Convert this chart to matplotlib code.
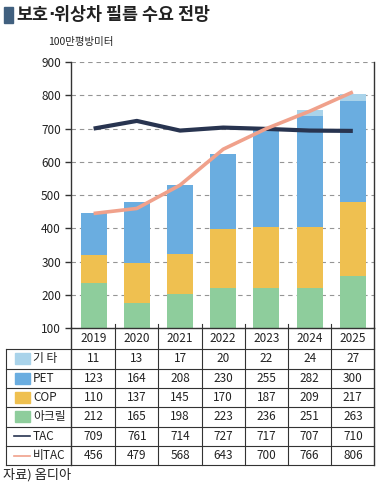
import numpy as np
import matplotlib.pyplot as plt
import matplotlib.transforms as mtransforms
from matplotlib.lines import Line2D
from matplotlib.patches import Rectangle

plt.rcParams['font.family'] = ['Noto Sans CJK KR', 'DejaVu Sans']

years = ['2019', '2020', '2021', '2022', '2023', '2024', '2025']

# values printed in the table
etc = [11, 13, 17, 20, 22, 24, 27]
pet = [123, 164, 208, 230, 255, 282, 300]
cop = [110, 137, 145, 170, 187, 209, 217]
acryl = [212, 165, 198, 223, 236, 251, 263]
tac = [709, 761, 714, 727, 717, 707, 710]
bitac = [456, 479, 568, 643, 700, 766, 806]

# heights as drawn in the graphic (they don't quite follow the table)
acryl_bar = [235, 177, 202, 220, 220, 220, 257]
cop_bar = [86, 120, 121, 177, 185, 185, 223]
pet_bar = [124, 181, 207, 228, 292, 332, 303]
etc_bar = [0, 0, 0, 0, 0, 20, 21]
tac_line = [700, 723, 694, 703, 699, 694, 693]
bitac_line = [445, 460, 530, 638, 700, 752, 810]

c_etc = '#a9d3ea'
c_pet = '#6aade0'
c_cop = '#efc050'
c_acryl = '#8ecd9c'
c_tac = '#283450'
c_bitac = '#f0a18b'
ink = '#222222'

W, H = 383, 484
fig = plt.figure(figsize=(W / 100, H / 100), dpi=100)

def fx(px):
    return px / W

def fy(py):
    return 1 - py / H

ax_l, ax_r, ax_t, ax_b = 70.7, 374.0, 62.0, 328.3
ax = fig.add_axes([fx(ax_l), fy(ax_b), fx(ax_r - ax_l), (ax_b - ax_t) / H])

x = np.arange(len(years))
bw = 0.6
b1 = np.array(acryl_bar)
b2 = b1 + np.array(cop_bar)
b3 = b2 + np.array(pet_bar)
ax.bar(x, acryl_bar, bw, color=c_acryl, zorder=2)
ax.bar(x, cop_bar, bw, bottom=b1, color=c_cop, zorder=2)
ax.bar(x, pet_bar, bw, bottom=b2, color=c_pet, zorder=2)
ax.bar(x, etc_bar, bw, bottom=b3, color=c_etc, zorder=2)

ax.plot(x, tac_line, color=c_tac, lw=3, solid_joinstyle='round',
        solid_capstyle='butt', zorder=3)
ax.plot(x, bitac_line, color=c_bitac, lw=2.6, solid_joinstyle='round',
        solid_capstyle='butt', zorder=4)

ax.set_xlim(-0.53, 6.49)
ax.set_ylim(100, 900)
ax.set_yticks(range(100, 1000, 100))
ax.set_xticks([])
ax.tick_params(axis='y', length=4, width=1, color='#333333', labelsize=8.5,
               labelcolor=ink, pad=3)
ax.yaxis.grid(True, linestyle=(0, (4, 3.5)), color='#959595', lw=0.8, zorder=0)
ax.spines['top'].set_visible(False)
for s in ['left', 'bottom', 'right']:
    ax.spines[s].set_color('#333333')
    ax.spines[s].set_linewidth(1)

# title, built in pieces so the middle dot stays narrow
fig.add_artist(Rectangle((fx(4), fy(23)), fx(9), 16 / H, color='#41607f',
                         transform=fig.transFigure))
renderer = fig.canvas.get_renderer()
cur = 16
for part, fam in [('보호', None), ('·', 'DejaVu Sans'),
                  ('위상차 필름 수요 전망', None)]:
    kw = {'family': fam} if fam else {}
    t = fig.text(fx(cur), fy(15), part, fontsize=12.5, fontweight='bold',
                 color=ink, va='center', ha='left', **kw)
    cur += t.get_window_extent(renderer).width
fig.text(fx(48), fy(42), '100만평방미터', fontsize=7.5, color=ink,
         va='center', ha='left')

# table under the chart
tx = mtransforms.blended_transform_factory(ax.transData, fig.transFigure)
tax = mtransforms.blended_transform_factory(ax.transAxes, fig.transFigure)
lc = '#333333'
row_top = 349.3
row_h = 19.33
nrows = 6
tbl_bottom = row_top + nrows * row_h

for i, yr in enumerate(years):
    fig.text(i, fy(339), yr, transform=tx, ha='center', va='center',
             fontsize=8.5, color=ink)

for k in range(nrows + 1):
    yy = fy(row_top + k * row_h)
    fig.add_artist(Line2D([fx(6), fx(ax_r)], [yy, yy], color=lc, lw=0.8,
                          transform=fig.transFigure))
fig.add_artist(Line2D([fx(6), fx(6)], [fy(row_top), fy(tbl_bottom)], color=lc,
                      lw=0.8, transform=fig.transFigure))
fig.add_artist(Line2D([0, 0], [fy(ax_b), fy(tbl_bottom)], color=lc, lw=1,
                      transform=tax))
fig.add_artist(Line2D([1, 1], [fy(ax_b), fy(tbl_bottom)], color=lc, lw=1,
                      transform=tax))
for i in range(len(years) - 1):
    fig.add_artist(Line2D([i + 0.5, i + 0.5], [fy(324), fy(tbl_bottom)],
                          color=lc, lw=0.8, transform=tx))

rows = [
    ('기 타', etc, 'box', c_etc),
    ('PET', pet, 'box', c_pet),
    ('COP', cop, 'box', c_cop),
    ('아크릴', acryl, 'box', c_acryl),
    ('TAC', tac, 'line', c_tac),
    ('비TAC', bitac, 'line', c_bitac),
]
for k, (name, vals, kind, col) in enumerate(rows):
    yc = row_top + (k + 0.5) * row_h
    if kind == 'box':
        fig.add_artist(Rectangle((fx(15), fy(yc + 5.5)), fx(15), 11 / H,
                                 color=col, transform=fig.transFigure))
    else:
        fig.add_artist(Line2D([fx(14), fx(30)], [fy(yc), fy(yc)], color=col,
                              lw=1.2, transform=fig.transFigure))
    fig.text(fx(33), fy(yc), name, fontsize=8.5, color=ink, ha='left',
             va='center')
    for i, v in enumerate(vals):
        fig.text(i, fy(yc), str(v), transform=tx, ha='center', va='center',
                 fontsize=8.5, color=ink)

fig.text(fx(3), fy(475), '자료) 옴디아', fontsize=9.5, color=ink, ha='left',
         va='center')

fig.savefig('out.png', dpi=100)
